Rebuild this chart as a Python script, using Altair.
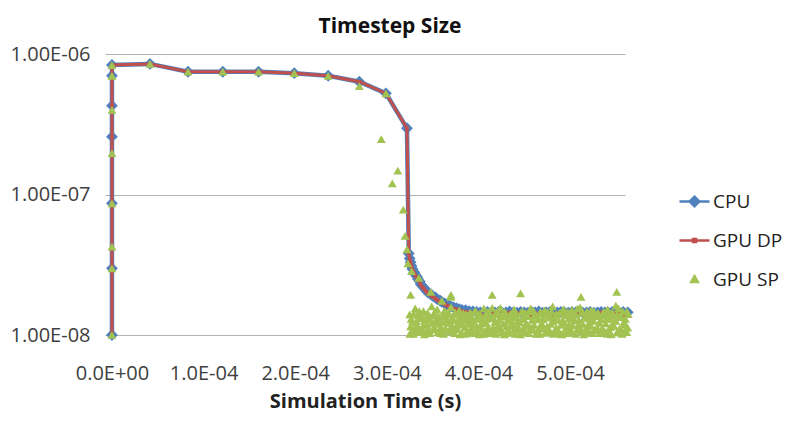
import altair as alt
import pandas as pd

# ---------------- data (time in 1e-4 s, timestep in 1e-8 s) ----------------
series_names = ["CPU", "GPU DP", "GPU SP"]
series_colors = ["#4f81bd", "#c0504d", "#a2c352"]

cpu_t = [0, 0, 0, 0, 0, 0, 0, 0.415, 0.83, 1.21, 1.60, 1.99, 2.36, 2.70, 2.99, 3.22,
         3.24, 3.25, 3.26, 3.27, 3.28, 3.30, 3.31, 3.33, 3.34, 3.36, 3.37, 3.39, 3.41, 3.43,
         3.45, 3.48, 3.50, 3.53, 3.55, 3.58, 3.60, 3.63, 3.65, 3.68, 3.70, 3.73, 3.76, 3.79,
         3.82, 3.86, 3.90, 3.94,
         3.98, 4.02, 4.06, 4.10, 4.14, 4.18, 4.22, 4.26, 4.30, 4.34, 4.38, 4.42, 4.46, 4.50,
         4.54, 4.58, 4.62, 4.66, 4.70, 4.74, 4.78, 4.82, 4.86, 4.90, 4.94, 4.98, 5.02, 5.06,
         5.10, 5.14, 5.18, 5.22, 5.26, 5.30, 5.34, 5.38, 5.42, 5.46, 5.50, 5.54, 5.58, 5.63]
cpu_dt = [1.0, 2.98, 8.65, 25.8, 42.9, 70.0, 83.5, 85.0, 74.8, 74.8, 74.8, 73.0, 70.0, 63.5, 52.5, 29.6,
          3.8, 3.5, 3.3, 3.1, 2.95, 2.8, 2.7, 2.6, 2.5, 2.4, 2.3, 2.22, 2.15, 2.07,
          2.0, 1.95, 1.9, 1.85, 1.8, 1.76, 1.72, 1.68, 1.65, 1.62, 1.6, 1.57, 1.55, 1.53,
          1.51, 1.5, 1.48, 1.47,
          1.46, 1.45, 1.45, 1.46, 1.44, 1.45, 1.46, 1.44, 1.45, 1.47, 1.45, 1.44, 1.46, 1.45,
          1.44, 1.46, 1.45, 1.47, 1.44, 1.45, 1.46, 1.44, 1.45, 1.46, 1.45, 1.44, 1.46, 1.45,
          1.47, 1.44, 1.45, 1.46, 1.44, 1.45, 1.46, 1.45, 1.44, 1.46, 1.45, 1.44, 1.46, 1.45]

dp_t = list(cpu_t)
dp_dt = [1.0, 2.98, 8.65, 25.8, 42.9, 70.0, 83.5, 85.0, 74.8, 74.8, 74.8, 73.0, 70.0, 63.5, 52.5, 29.6,
         3.75, 3.45, 3.25, 3.05, 2.9, 2.76, 2.66, 2.56, 2.46, 2.37, 2.27, 2.19, 2.12, 2.04,
         1.98, 1.92, 1.87, 1.82, 1.77, 1.73, 1.69, 1.66, 1.62, 1.6, 1.57, 1.54, 1.52, 1.5,
         1.48, 1.46, 1.45, 1.44,
         1.45, 1.42, 1.38, 1.44, 1.40, 1.45, 1.36, 1.44, 1.41, 1.45, 1.37, 1.44, 1.42, 1.39,
         1.45, 1.36, 1.44, 1.41, 1.38, 1.44, 1.40, 1.36, 1.43, 1.45, 1.39, 1.42, 1.44, 1.37,
         1.45, 1.41, 1.38, 1.44, 1.42, 1.36, 1.45, 1.40, 1.43, 1.37, 1.44, 1.41, 1.38, 1.43]

sp_t = [0, 0, 0, 0, 0, 0, 0, 0, 0.415, 0.83, 1.21, 1.60, 1.99, 2.36, 2.70, 2.99,
        2.94, 3.06, 3.12, 3.18, 3.20, 3.22, 3.23, 3.27, 3.35, 3.48, 3.60, 3.70,
        3.26, 3.70, 4.15, 4.46, 5.12, 5.51,
        # cloud
        3.25, 3.28, 3.31, 3.34, 3.37, 3.40, 3.43, 3.46, 3.49, 3.52,
        3.25, 3.28, 3.31, 3.34, 3.37, 3.40, 3.43, 3.46, 3.49, 3.52,
        3.26, 3.29, 3.32, 3.35, 3.38, 3.41, 3.44, 3.47, 3.50, 3.53,
        3.265, 3.295, 3.325, 3.355, 3.385, 3.415, 3.445, 3.475, 3.505, 3.535,
        3.55, 3.58, 3.61, 3.64, 3.67, 3.70, 3.73, 3.76, 3.79, 3.82,
        3.55, 3.58, 3.61, 3.64, 3.67, 3.70, 3.73, 3.76, 3.79, 3.82,
        3.56, 3.59, 3.62, 3.65, 3.68, 3.71, 3.74, 3.77, 3.80, 3.83,
        3.565, 3.595, 3.625, 3.655, 3.685, 3.715, 3.745, 3.775, 3.805, 3.835,
        3.85, 3.88, 3.91, 3.94, 3.97, 4.00, 4.03, 4.06, 4.09, 4.12,
        3.85, 3.88, 3.91, 3.94, 3.97, 4.00, 4.03, 4.06, 4.09, 4.12,
        3.86, 3.89, 3.92, 3.95, 3.98, 4.01, 4.04, 4.07, 4.10, 4.13,
        3.865, 3.895, 3.925, 3.955, 3.985, 4.015, 4.045, 4.075, 4.105, 4.135,
        4.15, 4.18, 4.21, 4.24, 4.27, 4.30, 4.33, 4.36, 4.39, 4.42,
        4.15, 4.18, 4.21, 4.24, 4.27, 4.30, 4.33, 4.36, 4.39, 4.42,
        4.16, 4.19, 4.22, 4.25, 4.28, 4.31, 4.34, 4.37, 4.40, 4.43,
        4.165, 4.195, 4.225, 4.255, 4.285, 4.315, 4.345, 4.375, 4.405, 4.435,
        4.45, 4.48, 4.51, 4.54, 4.57, 4.60, 4.63, 4.66, 4.69, 4.72,
        4.45, 4.48, 4.51, 4.54, 4.57, 4.60, 4.63, 4.66, 4.69, 4.72,
        4.46, 4.49, 4.52, 4.55, 4.58, 4.61, 4.64, 4.67, 4.70, 4.73,
        4.465, 4.495, 4.525, 4.555, 4.585, 4.615, 4.645, 4.675, 4.705, 4.735,
        4.75, 4.78, 4.81, 4.84, 4.87, 4.90, 4.93, 4.96, 4.99, 5.02,
        4.75, 4.78, 4.81, 4.84, 4.87, 4.90, 4.93, 4.96, 4.99, 5.02,
        4.76, 4.79, 4.82, 4.85, 4.88, 4.91, 4.94, 4.97, 5.00, 5.03,
        4.765, 4.795, 4.825, 4.855, 4.885, 4.915, 4.945, 4.975, 5.005, 5.035,
        5.05, 5.08, 5.11, 5.14, 5.17, 5.20, 5.23, 5.26, 5.29, 5.32,
        5.05, 5.08, 5.11, 5.14, 5.17, 5.20, 5.23, 5.26, 5.29, 5.32,
        5.06, 5.09, 5.12, 5.15, 5.18, 5.21, 5.24, 5.27, 5.30, 5.33,
        5.065, 5.095, 5.125, 5.155, 5.185, 5.215, 5.245, 5.275, 5.305, 5.335,
        5.35, 5.38, 5.41, 5.44, 5.47, 5.50, 5.53, 5.56, 5.59, 5.62,
        5.35, 5.38, 5.41, 5.44, 5.47, 5.50, 5.53, 5.56, 5.59, 5.62,
        5.36, 5.39, 5.42, 5.45, 5.48, 5.51, 5.54, 5.57, 5.60, 5.63,
        5.365, 5.395, 5.425, 5.455, 5.485, 5.515, 5.545, 5.575, 5.605, 5.635]
sp_dt = [1.0, 2.98, 4.25, 8.65, 19.7, 40.0, 70.0, 83.5, 85.0, 74.8, 74.8, 74.8, 73.0, 70.0, 59.0, 52.5,
         24.8, 12.0, 14.8, 7.8, 5.07, 4.07, 3.24, 2.85, 2.55, 2.03, 1.75, 1.87,
         1.93, 1.93, 1.93, 1.98, 1.87, 2.03,
         # cloud
         1.02, 1.25, 1.10, 1.38, 1.05, 1.18, 1.30, 1.08, 1.22, 1.45,
         1.40, 1.08, 1.55, 1.15, 1.32, 1.48, 1.06, 1.36, 1.60, 1.12,
         1.15, 1.02, 1.20, 1.05, 1.12, 1.01, 1.18, 1.03, 1.09, 1.22,
         1.30, 1.42, 1.26, 1.48, 1.35, 1.28, 1.44, 1.31, 1.38, 1.27,
         1.20, 1.03, 1.35, 1.12, 1.42, 1.07, 1.28, 1.16, 1.50, 1.04,
         1.52, 1.30, 1.09, 1.46, 1.22, 1.58, 1.11, 1.40, 1.19, 1.33,
         1.05, 1.14, 1.02, 1.24, 1.06, 1.17, 1.03, 1.10, 1.01, 1.20,
         1.36, 1.25, 1.47, 1.30, 1.40, 1.33, 1.45, 1.27, 1.38, 1.43,
         1.14, 1.37, 1.05, 1.26, 1.48, 1.10, 1.33, 1.02, 1.21, 1.44,
         1.29, 1.07, 1.45, 1.18, 1.04, 1.38, 1.13, 1.55, 1.30, 1.09,
         1.02, 1.20, 1.11, 1.03, 1.16, 1.01, 1.22, 1.06, 1.12, 1.03,
         1.41, 1.28, 1.36, 1.46, 1.30, 1.42, 1.26, 1.39, 1.47, 1.33,
         1.06, 1.24, 1.47, 1.12, 1.35, 1.03, 1.27, 1.41, 1.09, 1.19,
         1.56, 1.40, 1.10, 1.56, 1.20, 1.43, 1.08, 1.16, 1.52, 1.34,
         1.13, 1.02, 1.19, 1.05, 1.01, 1.15, 1.04, 1.23, 1.02, 1.10,
         1.32, 1.45, 1.29, 1.38, 1.46, 1.27, 1.40, 1.34, 1.43, 1.29,
         1.23, 1.48, 1.05, 1.36, 1.14, 1.49, 1.02, 1.29, 1.42, 1.11,
         1.08, 1.31, 1.44, 1.17, 1.55, 1.09, 1.38, 1.12, 1.21, 1.50,
         1.01, 1.12, 1.21, 1.03, 1.09, 1.18, 1.05, 1.02, 1.15, 1.04,
         1.44, 1.30, 1.37, 1.48, 1.28, 1.41, 1.33, 1.46, 1.29, 1.39,
         1.46, 1.07, 1.25, 1.39, 1.03, 1.18, 1.53, 1.13, 1.32, 1.06,
         1.15, 1.37, 1.60, 1.09, 1.28, 1.45, 1.05, 1.40, 1.19, 1.51,
         1.04, 1.20, 1.02, 1.13, 1.06, 1.01, 1.22, 1.03, 1.08, 1.17,
         1.33, 1.47, 1.29, 1.40, 1.44, 1.27, 1.38, 1.46, 1.31, 1.42,
         1.27, 1.10, 1.57, 1.44, 1.04, 1.33, 1.16, 1.48, 1.08, 1.22,
         1.41, 1.54, 1.13, 1.20, 1.36, 1.07, 1.50, 1.26, 1.39, 1.03,
         1.02, 1.18, 1.06, 1.01, 1.14, 1.21, 1.03, 1.09, 1.12, 1.04,
         1.39, 1.28, 1.45, 1.33, 1.47, 1.30, 1.41, 1.36, 1.44, 1.29,
         1.12, 1.45, 1.02, 1.30, 1.18, 1.62, 1.08, 1.35, 1.24, 1.47,
         1.38, 1.06, 1.52, 1.14, 1.42, 1.26, 1.55, 1.10, 1.19, 1.05,
         1.03, 1.21, 1.09, 1.01, 1.16, 1.04, 1.11, 1.02, 1.07, 1.13,
         1.46, 1.31, 1.38, 1.43, 1.27, 1.40, 1.34, 1.47, 1.30, 1.41]

x_ticks = [0, 1, 2, 3, 4, 5]
x_tick_labels = ["0.0E+00", "1.0E-04", "2.0E-04", "3.0E-04", "4.0E-04", "5.0E-04"]
y_ticks = [1, 10, 100]
y_tick_labels = ["1.00E-08", "1.00E-07", "1.00E-06"]

title_text = "Timestep Size"
x_title = "Simulation Time (s)"

# ---------------- tables ----------------
def frame(ts, dts, name):
    return pd.DataFrame({"t": [v * 1e-4 for v in ts],
                         "dt": [v * 1e-8 for v in dts],
                         "series": name,
                         "i": list(range(len(ts)))})

cpu = frame(cpu_t, cpu_dt, "CPU")
dp = frame(dp_t, dp_dt, "GPU DP")
sp = frame(sp_t, sp_dt, "GPU SP")
leg = pd.DataFrame({"t": [1e-4] * 3, "dt": [1e-7] * 3, "series": series_names})

x_vals = [v * 1e-4 for v in x_ticks]
y_vals = [v * 1e-8 for v in y_ticks]
x_expr = "[" + ",".join(f"'{s}'" for s in x_tick_labels) + "][round(datum.value*10000)]"
y_expr = "[" + ",".join(f"'{s}'" for s in y_tick_labels) + "][round(log(datum.value)/LN10)+8]"

FONT = "Open Sans"

x_enc = alt.X("t:Q", scale=alt.Scale(domain=[-0.076e-4, 5.6e-4], nice=False, zero=False),
              axis=alt.Axis(values=x_vals, labelExpr=x_expr, title=x_title, grid=False,
                            ticks=False, domain=False, labelFontSize=20, labelFont=FONT,
                            labelColor="#404040", labelPadding=28, titleFont=FONT,
                            titleFontSize=20, titleFontWeight="bold", titleColor="#222222",
                            titlePadding=8, labelFlush=False))
y_enc = alt.Y("dt:Q", scale=alt.Scale(type="log", domain=[1e-8, 1e-6], nice=False),
              axis=alt.Axis(values=y_vals, labelExpr=y_expr, title=None, grid=True,
                            gridColor="#b3b3b3", gridWidth=1.2, ticks=False, domain=False,
                            labelFontSize=20, labelFont=FONT, labelColor="#404040",
                            labelPadding=15))

cpu_line = alt.Chart(cpu).mark_line(color=series_colors[0], strokeWidth=4.5).encode(
    x=x_enc, y=y_enc, order="i:Q")
cpu_pts = alt.Chart(cpu).mark_point(shape="diamond", filled=True, size=140, opacity=1,
                                    color=series_colors[0]).encode(x=x_enc, y=y_enc)
dp_line = alt.Chart(dp).mark_line(color=series_colors[1], strokeWidth=3).encode(
    x=x_enc, y=y_enc, order="i:Q")
dp_pts = alt.Chart(dp).mark_point(shape="square", filled=True, size=14, opacity=1,
                                  color=series_colors[1]).encode(x=x_enc, y=y_enc)
sp_pts = alt.Chart(sp).mark_point(shape="triangle-up", filled=True, size=80, opacity=1,
                                  color=series_colors[2]).encode(x=x_enc, y=y_enc)

leg_shapes = ["M-1,0L1,0M0,-0.32L0.32,0L0,0.32L-0.32,0Z",
              "M-1,0L1,0M-0.1,-0.1L0.1,-0.1L0.1,0.1L-0.1,0.1Z",
              "M0,-0.22L0.22,0.16L-0.22,0.16Z"]
sc_fill = alt.Scale(domain=series_names, range=series_colors)
leg_layer = alt.Chart(leg).transform_filter("false").mark_point(
    filled=True, strokeWidth=2.5, opacity=1).encode(
    x=x_enc, y=y_enc,
    fill=alt.Fill("series:N", scale=sc_fill, title=None),
    stroke=alt.Stroke("series:N", scale=sc_fill, title=None),
    shape=alt.Shape("series:N", scale=alt.Scale(domain=series_names, range=leg_shapes), title=None),
)

chart = alt.layer(cpu_line, cpu_pts, dp_line, dp_pts, sp_pts, leg_layer).properties(
    width=520, height=281,
    title=alt.TitleParams(title_text, font=FONT, fontSize=21, fontWeight="bold",
                          color="#111111", anchor="middle", dx=25, offset=7),
    autosize=alt.AutoSizeParams(type="none"),
    padding={"left": 97, "top": 46, "right": 157, "bottom": 80},
).configure_view(stroke=None).configure_legend(
    orient="none", legendX=573, legendY=131, padding=0, symbolSize=900,
    symbolStrokeWidth=2.5, labelFont=FONT, labelFontSize=19, labelColor="#222222",
    labelOffset=2, rowPadding=12, symbolOpacity=1,
)

chart.save("out.html", embed_options={"renderer": "svg", "actions": False})
